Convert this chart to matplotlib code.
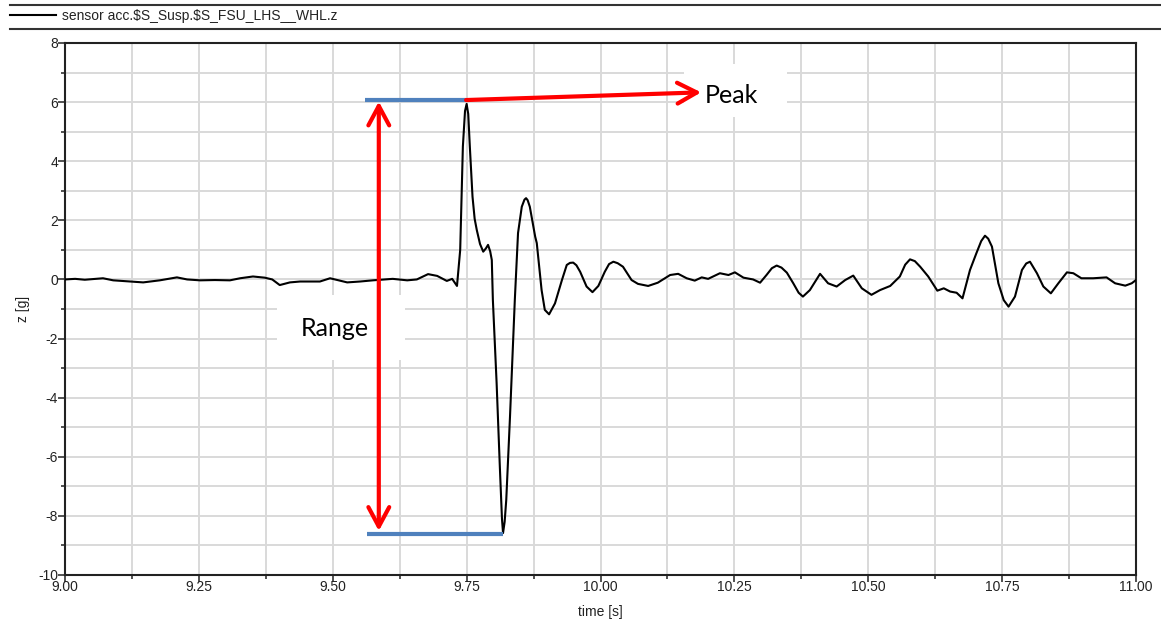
import matplotlib
matplotlib.use("Agg")
import matplotlib.pyplot as plt
from matplotlib.lines import Line2D
from matplotlib.patches import Rectangle, ArrowStyle
from matplotlib.ticker import MultipleLocator, FormatStrFormatter

plt.rcParams["font.family"] = ["Liberation Sans", "DejaVu Sans"]

# Wheel vertical acceleration, sensor acc.$S_Susp.$S_FSU_LHS__WHL.z
time_s = [
    9.000, 9.019, 9.037, 9.056, 9.071, 9.090, 9.121, 9.146, 9.177, 9.209,
    9.228, 9.252, 9.280, 9.308, 9.327, 9.351, 9.373, 9.387, 9.401, 9.420,
    9.439, 9.476, 9.495, 9.527, 9.551, 9.575, 9.612, 9.639, 9.657, 9.678,
    9.695, 9.713, 9.723, 9.732, 9.738, 9.743, 9.747, 9.750, 9.753, 9.756,
    9.761, 9.765, 9.769, 9.775, 9.781, 9.786, 9.790, 9.794, 9.797, 9.799,
    9.806, 9.812, 9.816, 9.818, 9.821, 9.824, 9.831, 9.840, 9.846, 9.853,
    9.858, 9.861, 9.864, 9.868, 9.878, 9.881, 9.890, 9.896, 9.904, 9.915,
    9.928, 9.937, 9.943, 9.949, 9.955, 9.962, 9.974, 9.985, 9.996, 10.008,
    10.016, 10.024, 10.032, 10.042, 10.058, 10.070, 10.089, 10.107, 10.130, 10.145,
    10.161, 10.176, 10.189, 10.201, 10.223, 10.239, 10.251, 10.267, 10.285, 10.298,
    10.310, 10.320, 10.329, 10.338, 10.348, 10.360, 10.370, 10.378, 10.391, 10.410,
    10.425, 10.441, 10.457, 10.472, 10.488, 10.506, 10.522, 10.541, 10.559, 10.569,
    10.578, 10.587, 10.597, 10.612, 10.629, 10.641, 10.653, 10.665, 10.676, 10.690,
    10.702, 10.711, 10.718, 10.724, 10.731, 10.743, 10.753, 10.762, 10.774, 10.787,
    10.795, 10.802, 10.815, 10.827, 10.841, 10.855, 10.871, 10.883, 10.898, 10.920,
    10.945, 10.961, 10.980, 10.992, 11.000,
]
accel_g = [
    0.00, 0.02, -0.01, 0.02, 0.04, -0.03, -0.07, -0.10, -0.03, 0.07,
    0.00, -0.03, -0.02, -0.03, 0.04, 0.10, 0.06, 0.00, -0.19, -0.10,
    -0.07, -0.07, 0.04, -0.10, -0.07, -0.03, 0.02, -0.03, 0.00, 0.18,
    0.12, -0.05, 0.02, -0.22, 1.00, 4.50, 5.70, 5.94, 5.60, 4.49,
    2.80, 2.05, 1.67, 1.20, 0.94, 1.05, 1.17, 0.95, 0.66, -0.69,
    -3.50, -6.33, -8.10, -8.58, -8.20, -7.46, -4.64, -0.69, 1.57, 2.46,
    2.70, 2.75, 2.68, 2.46, 1.45, 1.23, -0.36, -1.03, -1.18, -0.81,
    -0.02, 0.49, 0.56, 0.57, 0.48, 0.26, -0.24, -0.43, -0.22, 0.26,
    0.52, 0.60, 0.55, 0.43, -0.02, -0.15, -0.22, -0.11, 0.15, 0.19,
    0.04, -0.04, 0.07, 0.02, 0.21, 0.15, 0.24, 0.06, 0.00, -0.11,
    0.15, 0.38, 0.47, 0.40, 0.23, -0.13, -0.45, -0.58, -0.36, 0.19,
    -0.13, -0.24, -0.02, 0.13, -0.30, -0.52, -0.36, -0.22, 0.10, 0.50,
    0.68, 0.62, 0.43, 0.10, -0.38, -0.30, -0.41, -0.45, -0.64, 0.32,
    0.89, 1.30, 1.48, 1.38, 1.11, -0.13, -0.70, -0.92, -0.58, 0.32,
    0.54, 0.60, 0.21, -0.24, -0.47, -0.13, 0.24, 0.21, 0.04, 0.04,
    0.07, -0.13, -0.21, -0.13, -0.02,
]

# Annotation levels
peak_level = 6.07
range_low = -8.61
peak_bar_t = [9.560, 9.749]
low_bar_t = [9.564, 9.818]
range_arrow_t = 9.586
peak_label_at = (10.188, 6.33)

fig = plt.figure(figsize=(11.61, 6.20), dpi=100, facecolor="white")
ax = fig.add_axes([65 / 1161, 1 - 575 / 620, (1136 - 65) / 1161, (575 - 43) / 620])

signal, = ax.plot(time_s, accel_g, color="black", lw=1.5, zorder=4,
                  solid_joinstyle="round",
                  label=r"sensor acc.\$S_Susp.\$S_FSU_LHS__WHL.z")

ax.set_xlim(9.0, 11.0)
ax.set_ylim(-10, 8)
ax.xaxis.set_major_locator(MultipleLocator(0.25))
ax.xaxis.set_minor_locator(MultipleLocator(0.125))
ax.yaxis.set_major_locator(MultipleLocator(2))
ax.yaxis.set_minor_locator(MultipleLocator(1))
ax.xaxis.set_major_formatter(FormatStrFormatter("%.2f"))
ax.yaxis.set_major_formatter(FormatStrFormatter("%d"))

ax.set_axisbelow(True)
ax.grid(which="both", color="#d9d9d9", lw=1.4)
for sp in ax.spines.values():
    sp.set_color("#222222")
    sp.set_linewidth(1.5)

ax.tick_params(which="major", direction="out", length=5, width=1.1,
               color="#222222", labelsize=10, labelcolor="#222222")
ax.tick_params(which="minor", direction="out", length=3, width=1.1,
               color="#222222")
ax.tick_params(axis="x", which="major", pad=-1.5)
ax.tick_params(axis="y", which="major", pad=0)

ax.set_xlabel("time [s]", fontsize=10, color="#222222", labelpad=8)
ax.set_ylabel("z [g]", fontsize=10, color="#222222", labelpad=6)

# White label boxes
ax.add_patch(Rectangle((9.396, -2.72), 0.239, 2.20, facecolor="white",
                       edgecolor="none", zorder=1))
ax.add_patch(Rectangle((10.156, 5.50), 0.192, 1.80, facecolor="white",
                       edgecolor="none", zorder=1))

# Level bars
blue = "#4f81bd"
ax.plot(peak_bar_t, [peak_level, peak_level], color=blue, lw=3, zorder=5,
        solid_capstyle="butt")
ax.plot(low_bar_t, [range_low, range_low], color=blue, lw=3, zorder=5,
        solid_capstyle="butt")

head = ArrowStyle("->", head_length=1.4, head_width=0.75)
ax.annotate("", xy=peak_label_at, xytext=(peak_bar_t[1], peak_level),
            arrowprops=dict(arrowstyle=head, color="red", lw=3,
                            shrinkA=0, shrinkB=0, mutation_scale=10),
            zorder=6)
head2 = ArrowStyle("<->", head_length=1.4, head_width=0.75)
ax.annotate("", xy=(range_arrow_t, range_low + 0.1),
            xytext=(range_arrow_t, peak_level - 0.05),
            arrowprops=dict(arrowstyle=head2, color="red", lw=3,
                            shrinkA=0, shrinkB=0, mutation_scale=10),
            zorder=6)

ax.text(10.195, 6.22, "Peak", family="Lato", fontsize=18, color="black",
        ha="left", va="center", zorder=7)
ax.text(9.504, -1.66, "Range", family="Lato", fontsize=18, color="black",
        ha="center", va="center", zorder=7)

# Header with legend entry
for yy in (5, 29):
    fig.add_artist(Line2D([10 / 1161, 1.0], [1 - yy / 620, 1 - yy / 620],
                          color="#333333", lw=1.5))
fig.legend(handles=[signal], loc="center left",
           bbox_to_anchor=(10 / 1161, 1 - 16 / 620), frameon=False,
           fontsize=10, handlelength=3.3, handletextpad=0.45,
           borderpad=0, borderaxespad=0, labelcolor="#222222")

fig.savefig("out.png", dpi=100, facecolor="white")
